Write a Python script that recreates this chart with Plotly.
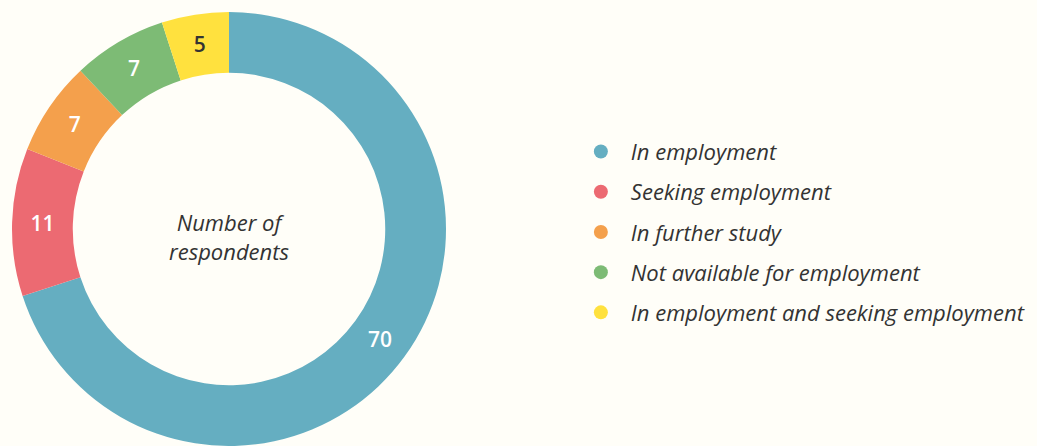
import plotly.graph_objects as go

categories = ["In employment", "Seeking employment", "In further study",
              "Not available for employment", "In employment and seeking employment"]
values = [70, 11, 7, 7, 5]
colors = ["#65AEC1", "#EC6A72", "#F4A04C", "#7DBB75", "#FFE13E"]
text_colors = ["#FFFFFF", "#FFFFFF", "#FFFFFF", "#FFFFFF", "#333333"]
center_label = "Number of<br>respondents"

BG = "#FFFEF8"
FONT = "Open Sans"

W, H = 1037, 446
mt, mb = 12, 0
R = (H - mt - mb) / 2
cx = 229

fig = go.Figure()
fig.add_trace(go.Pie(
    labels=categories, values=values, sort=False, direction="clockwise", rotation=0,
    hole=0.72,
    marker=dict(colors=colors, line=dict(width=0)),
    textinfo="value", textposition="inside", insidetextorientation="horizontal",
    textfont=dict(family=FONT, size=21, color=text_colors, weight=600),
    showlegend=False,
    domain=dict(x=[(cx - R) / W, (cx + R) / W], y=[0, 1]),
    hoverinfo="label+value",
))

for i, (c, col) in enumerate(zip(categories, colors)):
    fig.add_trace(go.Scatter(
        x=[None], y=[None], mode="markers", name=c,
        marker=dict(color=col, size=14, symbol="circle"),
        legendgroup=f"g{i}", showlegend=True,
    ))

fig.add_annotation(
    text=center_label, x=cx / W, y=(H - 237 - mb) / (H - mt - mb),
    xref="paper", yref="paper", showarrow=False,
    font=dict(family=FONT, size=22, color="#333333", style="italic"),
    xanchor="center", yanchor="middle",
)

fig.update_layout(
    width=W, height=H,
    margin=dict(l=0, r=0, t=mt, b=mb),
    paper_bgcolor=BG, plot_bgcolor=BG,
    xaxis=dict(visible=False), yaxis=dict(visible=False),
    legend=dict(
        x=0.5505, y=0.4925, xanchor="left", yanchor="middle",
        font=dict(family=FONT, size=22, color="#333333", style="italic"),
        tracegroupgap=8.6, itemsizing="trace", itemwidth=50,
        bgcolor="rgba(0,0,0,0)",
    ),
)

fig.write_html(
    "out.html",
    config={"displayModeBar": False},
    post_script="document.body.style.margin='0';document.body.style.overflow='hidden';"
                "document.body.style.background='" + BG + "';",
)
